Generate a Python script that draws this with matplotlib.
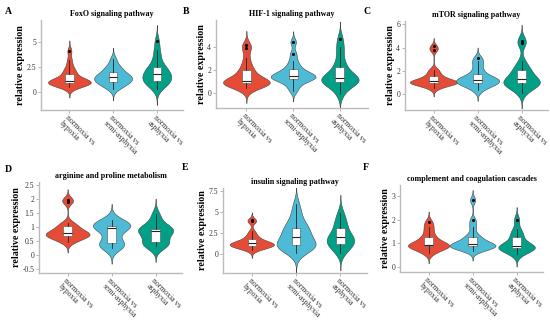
import numpy as np
import matplotlib
matplotlib.use("Agg")
import matplotlib.pyplot as plt
from matplotlib.ticker import FormatStrFormatter

plt.rcParams['font.family'] = ['Liberation Serif', 'DejaVu Serif']

groups = ["normoxia vs\nhypoxia", "normoxia vs\nsemi-asphyxia", "normoxia vs\nasphyxia"]
colors = ["#E64B35", "#4DBBD5", "#00A087"]
titles = ["FoxO signaling pathway", "HIF-1 signaling pathway", "mTOR signaling pathway",
          "arginine and proline metabolism", "insulin signaling pathway",
          "complement and coagulation cascades"]
letters = ["A", "B", "C", "D", "E", "F"]

# estimated sample values per group (read off the violins / boxes)
foxo = [
    [0.5, 0.6, 0.7, 0.8, 0.85, 0.9, 0.9, 1.0, 1.0, 1.1, 1.2, 1.2, 1.3, 1.5, 1.8, 2.0, 2.2, 2.6, 3.2, 4.1],
    [0.3, 0.6, 0.8, 0.9, 1.0, 1.1, 1.3, 1.4, 1.5, 1.5, 1.6, 1.8, 2.0, 2.2, 2.4, 2.7, 3.3],
    [0.3, 0.7, 0.9, 1.0, 1.1, 1.2, 1.4, 1.6, 1.8, 1.8, 2.0, 2.2, 2.4, 2.6, 3.0, 3.6, 4.2, 5.1],
]
hif1 = [
    [0.4, 0.6, 0.7, 0.8, 0.8, 0.9, 0.9, 1.0, 1.0, 1.1, 1.2, 1.5, 1.8, 2.0, 2.4, 3.0, 3.9, 4.1],
    [0.2, 0.6, 0.9, 1.1, 1.2, 1.3, 1.3, 1.4, 1.5, 1.5, 1.6, 1.8, 1.9, 2.1, 2.4, 2.8, 3.4, 4.4],
    [-0.1, 0.4, 0.7, 0.9, 0.9, 1.0, 1.1, 1.2, 1.3, 1.3, 1.5, 1.7, 2.0, 2.3, 2.7, 3.4, 4.0, 4.7],
]
mtor = [
    [0.5, 0.7, 0.8, 0.9, 0.9, 1.0, 1.0, 1.0, 1.1, 1.1, 1.2, 1.3, 1.5, 1.6, 1.9, 2.1, 3.8, 4.1],
    [0.3, 0.6, 0.8, 0.8, 0.9, 1.0, 1.1, 1.2, 1.2, 1.3, 1.4, 1.5, 1.7, 2.0, 2.4, 2.8, 3.1],
    [0.1, 0.5, 0.7, 0.8, 0.9, 0.9, 1.0, 1.1, 1.3, 1.4, 1.6, 1.9, 2.1, 2.3, 2.8, 4.4, 4.6],
]
arginine = [
    [0.45, 0.55, 0.6, 0.65, 0.7, 0.7, 0.75, 0.75, 0.8, 0.85, 0.9, 1.0, 1.05, 1.15, 1.9, 1.97],
    [0.25, 0.3, 0.35, 0.4, 0.5, 0.7, 0.9, 1.0, 1.0, 1.02, 1.05, 1.1, 1.2, 1.25],
    [0.3, 0.35, 0.4, 0.45, 0.6, 0.75, 0.85, 0.88, 0.9, 0.92, 1.0, 1.2, 1.45],
]
insulin = [
    [0.5, 0.7, 0.8, 0.9, 1.0, 1.0, 1.1, 1.1, 1.2, 1.3, 1.3, 1.4, 1.5, 1.6, 1.8, 2.0, 2.3, 2.7, 3.9, 4.0],
    [0.2, 0.5, 0.8, 0.95, 1.0, 1.05, 1.1, 1.2, 1.3, 1.9, 2.1, 2.3, 2.6, 2.9, 3.1, 3.3, 3.7, 4.3, 5.0, 5.9],
    [0.2, 0.6, 1.0, 1.2, 1.3, 1.5, 1.8, 2.0, 2.0, 2.3, 2.8, 3.3, 3.6, 4.2, 4.9],
]
complement = [
    [0.6, 0.7, 0.8, 0.85, 0.9, 0.9, 0.92, 0.95, 1.0, 1.1, 1.2, 1.3, 1.5, 1.7, 1.9],
    [0.7, 0.75, 0.8, 0.85, 0.88, 0.9, 0.92, 0.95, 0.98, 1.0, 1.1, 1.2, 1.25, 1.4, 1.7, 1.97, 2.82],
    [0.55, 0.65, 0.75, 0.8, 0.82, 0.85, 0.85, 0.9, 1.0, 1.1, 1.3, 1.4, 1.6, 2.0],
]
datasets = [foxo, hif1, mtor, arginine, insulin, complement]

# maximum violin width of each group, as seen in the picture
violin_widths = [[0.98, 0.87, 0.66], [1.0, 0.96, 0.8], [1.08, 0.98, 0.83],
                 [1.0, 0.85, 0.8], [1.0, 0.88, 0.62], [0.94, 1.04, 0.83]]

ylims = [(-1.8, 7.2), (-1.3, 6.3), (-1.4, 6.3), (-0.65, 2.6), (-2.2, 7.8), (-0.2, 3.45)]
yticks = [[0, 2.5, 5], [0, 2, 4], [0, 2, 4, 6], [-0.5, 0, 0.5, 1, 1.5, 2, 2.5],
          [0, 2.5, 5, 7.5], [0, 1, 2, 3]]

# axes boxes in pixels: left, right, top, bottom
boxes = [(41, 183, 20, 110), (216, 368, 20, 108), (405, 548, 21, 110),
         (39, 182, 182, 273), (223, 367, 188, 273), (400, 543, 185, 272)]
letter_pos = [(5, 12), (183, 12), (363, 12), (5, 170), (182, 168), (363, 167)]

W, H = 550, 320
fig = plt.figure(figsize=(5.5, 3.2), dpi=100)


def kde(vals, grid, h):
    z = (grid[:, None] - vals[None, :]) / h
    return np.exp(-0.5 * z ** 2).sum(1) / (len(vals) * h * np.sqrt(2 * np.pi))


for k, data in enumerate(datasets):
    l, r, t, b = boxes[k]
    ax = fig.add_axes([l / W, 1 - b / H, (r - l) / W, (b - t) / H])

    for i, vals in enumerate(data):
        v = np.array(vals)
        q1, q3 = np.percentile(v, [25, 75])
        s = min(v.std(ddof=1), (q3 - q1) / 1.34)
        h = 0.9 * s * len(v) ** -0.2
        grid = np.linspace(v.min() - 3 * h, v.max() + 3 * h, 300)
        d = kde(v, grid, h)
        half = d / d.max() * violin_widths[k][i] / 2
        ax.fill_betweenx(grid, i + 1 - half, i + 1 + half, facecolor=colors[i],
                         edgecolor="#444444", linewidth=0.4, zorder=1)

    ax.boxplot(data, positions=[1, 2, 3], widths=0.19, patch_artist=True,
               showcaps=False, zorder=3,
               boxprops=dict(facecolor="white", edgecolor="#666666", linewidth=0.5),
               medianprops=dict(color="#222222", linewidth=0.8),
               whiskerprops=dict(color="#222222", linewidth=0.6),
               flierprops=dict(marker="o", markersize=1.2, markerfacecolor="black",
                               markeredgecolor="black"))

    ax.set_xlim(0.35, 3.6)
    ax.set_ylim(*ylims[k])
    ax.set_yticks(yticks[k])
    ax.yaxis.set_major_formatter(FormatStrFormatter('%g'))
    ax.set_xticks([1, 2, 3])
    ax.set_xticklabels(groups, rotation=-45, ha="left", va="top",
                       rotation_mode="anchor", fontsize=4.9, linespacing=0.95)
    ax.tick_params(length=2, width=0.5, color="#999999", labelsize=5.5,
                   labelcolor="#333333", pad=1.5)
    ax.tick_params(axis="x", pad=1)
    for side in ["top", "right"]:
        ax.spines[side].set_visible(False)
    for side in ["left", "bottom"]:
        ax.spines[side].set_color("#bbbbbb")
        ax.spines[side].set_linewidth(1.0)
    ax.set_ylabel("relative expression", fontsize=7.2, fontweight="bold", labelpad=1)
    ax.set_title(titles[k], fontsize=5.8, fontweight="bold", pad=3)

    lx, ly = letter_pos[k]
    fig.text(lx / W, 1 - ly / H, letters[k], fontsize=7, fontweight="bold",
             ha="left", va="center")

fig.savefig("out.png", dpi=100)
